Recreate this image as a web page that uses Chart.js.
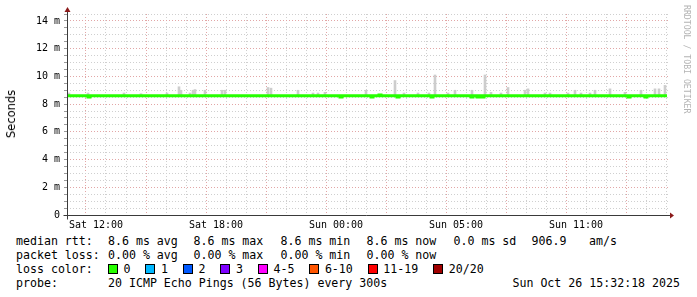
<!DOCTYPE html>
<html>
<head>
<meta charset="utf-8">
<title>SmokePing</title>
<script src="https://cdn.jsdelivr.net/npm/chart.js@4.4.1/dist/chart.umd.min.js"></script>
<style>
  html, body { margin: 0; padding: 0; background: #fff; }
  #wrap { position: relative; width: 697px; height: 297px; overflow: hidden; background: #fff; }
  #chart { position: absolute; left: 0; top: 0; }
  #ylabel { position: absolute; left: 11px; top: 114px; transform: translate(-50%, -50%) rotate(-90deg);
            font: 11.5px "DejaVu Sans"; color: #000; white-space: nowrap; }
  #mark { position: absolute; left: 682px; top: 5px; writing-mode: vertical-rl;
          font: 8.2px "DejaVu Sans Mono"; color: #b4b4b4; white-space: nowrap; }
  .t { position: absolute; font: 11.6px "DejaVu Sans Mono"; color: #000; white-space: pre; line-height: 14px; }
  .box { display: inline-block; width: 8px; height: 8px; border: 1px solid #000; vertical-align: -1px; margin-right: 5.5px; }
  .lbl { margin-right: 15px; }
</style>
</head>
<body>
<div id="wrap">
  <canvas id="chart" width="697" height="232"></canvas>
  <div id="ylabel">Seconds</div>
  <div id="mark">RRDTOOL / TOBI OETIKER</div>

  <div class="t" style="left:16px;top:234px">median rtt:</div>
  <div class="t" style="left:108px;top:234px">8.6 ms avg</div>
  <div class="t" style="left:193.5px;top:234px">8.6 ms max</div>
  <div class="t" style="left:280.5px;top:234px">8.6 ms min</div>
  <div class="t" style="left:366.5px;top:234px">8.6 ms now</div>
  <div class="t" style="left:453.5px;top:234px">0.0 ms sd</div>
  <div class="t" style="left:531.5px;top:234px">906.9</div>
  <div class="t" style="left:589px;top:234px">am/s</div>

  <div class="t" style="left:16px;top:248px">packet loss:</div>
  <div class="t" style="left:108px;top:248px">0.00 % avg</div>
  <div class="t" style="left:193.5px;top:248px">0.00 % max</div>
  <div class="t" style="left:280.5px;top:248px">0.00 % min</div>
  <div class="t" style="left:366.5px;top:248px">0.00 % now</div>

  <div class="t" style="left:16px;top:262px">loss color:</div>
  <div class="t" id="losses" style="left:108px;top:262px"></div>

  <div class="t" style="left:16px;top:276px">probe:</div>
  <div class="t" style="left:108px;top:276px">20 ICMP Echo Pings (56 Bytes) every 300s</div>
  <div class="t" style="right:17px;top:276px">Sun Oct 26 15:32:18 2025</div>
</div>

<script>
// time axis is in hours since Sat 00:00 (real hours, so the DST switch is just a label)
const xLabelHours = [12, 18, 24, 30, 36];
const xLabels = ['Sat 12:00', 'Sat 18:00', 'Sun 00:00', 'Sun 05:00', 'Sun 11:00'];

const yLabelValues = [0, 2, 4, 6, 8, 10, 12, 14];
const yLabels = ['0', '2 m', '4 m', '6 m', '8 m', '10 m', '12 m', '14 m'];

// median rtt (ms), stepped: each value holds until the next hour mark
const medianHours  = [10.55, 11.6, 11.7, 24.2, 24.3, 25.75, 25.85, 26.15, 26.25, 27.05, 27.15,
                      28.75, 28.85, 30.75, 30.85, 31.05, 31.15, 31.3, 31.4, 38.6, 38.7, 39.45, 39.55, 40.55];
const medianValues = [8.6, 8.52, 8.6, 8.52, 8.6, 8.52, 8.6, 8.66, 8.6, 8.52, 8.6,
                      8.52, 8.6, 8.52, 8.6, 8.52, 8.6, 8.52, 8.6, 8.52, 8.6, 8.52, 8.6, 8.6];

// smoke (spread of the 20 pings) where it shows above the median line
const smokeHours = [10.65, 11.6, 13.4, 14.25, 15.55, 16.15, 16.25, 16.7, 16.85, 16.95, 17.45, 18.3, 18.45,
                    20.6, 20.75, 22.1, 22.85, 23.1, 23.45, 25.5, 26.95, 27.4, 28.1, 28.65, 28.95, 29.6,
                    29.95, 30.8, 31.45, 31.75, 32.25, 32.6, 33.45, 33.6, 34.45, 34.7, 35.6, 35.95, 36.25,
                    36.7, 36.95, 37.7, 38.45, 39.25, 39.95, 40.15, 40.45];
const smokeLow   = [8.55, 8.55, 8.55, 8.55, 8.55, 8.55, 8.55, 8.55, 8.55, 8.55, 8.55, 8.55, 8.55,
                    8.55, 8.55, 8.55, 8.55, 8.55, 8.55, 8.55, 8.55, 8.55, 8.55, 8.55, 8.55, 8.55,
                    8.55, 8.55, 8.55, 8.55, 8.55, 8.55, 8.55, 8.55, 8.55, 8.55, 8.55, 8.55, 8.55,
                    8.55, 8.55, 8.55, 8.55, 8.55, 8.55, 8.55, 8.55];
const smokeHigh  = [8.8, 8.8, 8.8, 8.75, 8.8, 9.25, 9.0, 8.8, 9.0, 9.05, 9.0, 9.0, 9.0,
                    9.2, 9.15, 9.0, 8.8, 8.8, 8.85, 9.0, 9.7, 8.8, 8.8, 8.8, 10.1, 8.8,
                    9.0, 9.0, 10.1, 8.85, 8.8, 9.2, 9.0, 9.1, 8.8, 8.8, 8.8, 9.0, 8.8,
                    8.8, 9.0, 9.1, 8.85, 9.0, 9.1, 9.1, 9.35];

const lossLabels = ['0', '1', '2', '3', '4-5', '6-10', '11-19', '20/20'];
const lossColors = ['#26ff00', '#00b8ff', '#0059ff', '#7e00ff', '#ff00ff', '#ff5500', '#ff0000', '#a00000'];

const minorGrid = '#cfcfcf';
const majorGrid = '#e2a6a6';

// loss color legend row
const lossRow = document.getElementById('losses');
lossLabels.forEach((lab, i) => {
  const b = document.createElement('span');
  b.className = 'box';
  b.style.background = lossColors[i];
  const l = document.createElement('span');
  l.className = 'lbl';
  l.textContent = lab;
  lossRow.appendChild(b);
  lossRow.appendChild(l);
});

// axis lines and the little red arrows rrdtool puts on them
const axisArrows = {
  id: 'axisArrows',
  afterDraw(chart) {
    const { ctx, chartArea: a } = chart;
    const x0 = Math.round(a.left) + 0.5;
    const y0 = Math.round(a.bottom) + 0.5;
    ctx.save();
    ctx.strokeStyle = '#3a3a3a';
    ctx.lineWidth = 1;
    ctx.beginPath();
    ctx.moveTo(x0 - 4, y0);
    ctx.lineTo(a.right + 1, y0);
    ctx.moveTo(x0, y0 + 4);
    ctx.lineTo(x0, a.top - 3);
    ctx.stroke();
    ctx.fillStyle = '#8b1a1a';
    ctx.beginPath();
    ctx.moveTo(a.right + 1, y0 - 3);
    ctx.lineTo(a.right + 5, y0);
    ctx.lineTo(a.right + 1, y0 + 3);
    ctx.closePath();
    ctx.fill();
    ctx.beginPath();
    ctx.moveTo(x0 - 3, a.top - 2);
    ctx.lineTo(x0, a.top - 7);
    ctx.lineTo(x0 + 3, a.top - 2);
    ctx.closePath();
    ctx.fill();
    ctx.restore();
  }
};

new Chart(document.getElementById('chart').getContext('2d'), {
  type: 'line',
  data: {
    datasets: [
      {
        type: 'line',
        label: 'median rtt',
        data: medianHours.map((h, i) => ({ x: h, y: medianValues[i] })),
        borderColor: lossColors[0],
        borderWidth: 3,
        pointRadius: 0,
        stepped: true,
        fill: false,
        order: 0
      },
      {
        type: 'bar',
        label: 'smoke',
        data: smokeHours.map((h, i) => ({ x: h, y: [smokeLow[i], smokeHigh[i]] })),
        backgroundColor: '#cdcdcd',
        borderWidth: 0,
        barThickness: 2,
        grouped: false,
        order: 1
      }
    ]
  },
  options: {
    responsive: false,
    animation: false,
    devicePixelRatio: 1,
    layout: { padding: { top: 14, right: 28, left: 0, bottom: 0 } },
    plugins: { legend: { display: false }, tooltip: { enabled: false } },
    scales: {
      x: {
        type: 'linear',
        min: 10.55,
        max: 40.65,
        offset: false,
        afterBuildTicks: function(axis) {
          const t = [];
          for (let h = 11; h <= 40; h++) t.push({ value: h });
          axis.ticks = t;
        },
        afterFit: function(axis) { axis.height = 17; },
        grid: {
          color: c => (c.tick && c.tick.value % 3 === 0) ? majorGrid : minorGrid,
          lineWidth: 1,
          drawTicks: false,
          borderDash: [1, 2]
        },
        border: { display: false, dash: [1, 2] },
        ticks: {
          autoSkip: false,
          maxRotation: 0,
          padding: 4,
          color: '#000',
          font: { family: 'DejaVu Sans Mono', size: 10 },
          callback: function(v) {
            const i = xLabelHours.indexOf(v);
            return i >= 0 ? xLabels[i] : '';
          }
        }
      },
      y: {
        type: 'linear',
        min: 0,
        max: 14.5,
        afterBuildTicks: function(axis) {
          const t = [];
          for (let v = 0; v <= 14.5; v += 0.5) t.push({ value: v });
          axis.ticks = t;
        },
        afterFit: function(axis) { axis.width = 67; },
        grid: {
          color: c => (c.tick && c.tick.value % 2 === 0) ? majorGrid : minorGrid,
          lineWidth: 1,
          drawTicks: true,
          tickLength: 3,
          tickColor: '#9a9a9a',
          borderDash: [1, 2]
        },
        border: { display: false, dash: [1, 2] },
        ticks: {
          autoSkip: false,
          padding: 4,
          color: '#000',
          font: { family: 'DejaVu Sans Mono', size: 10 },
          callback: function(v) {
            const i = yLabelValues.indexOf(v);
            return i >= 0 ? yLabels[i] : '';
          }
        }
      }
    }
  },
  plugins: [axisArrows]
});
</script>
</body>
</html>
